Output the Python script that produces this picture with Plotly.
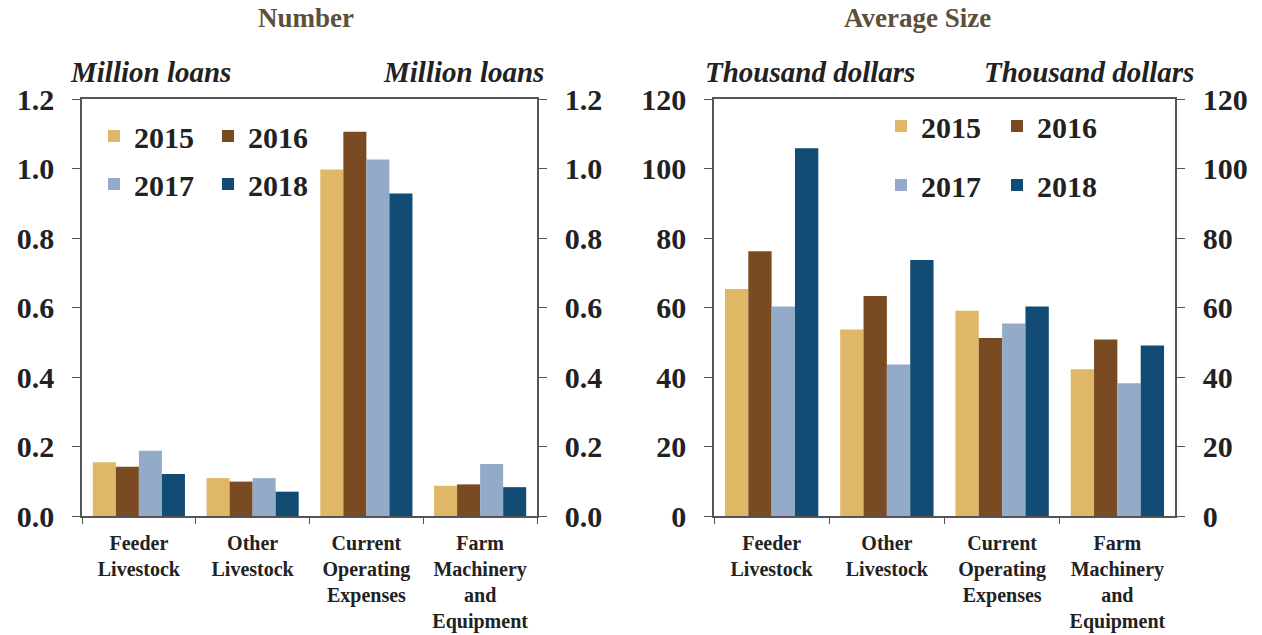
import plotly.graph_objects as go

categories = ["Feeder<br>Livestock", "Other<br>Livestock", "Current<br>Operating<br>Expenses",
              "Farm<br>Machinery<br>and<br>Equipment"]
years = ["2015", "2016", "2017", "2018"]

# Number of loans (million loans)
number_2015 = [0.155, 0.109, 0.997, 0.087]
number_2016 = [0.142, 0.099, 1.106, 0.091]
number_2017 = [0.188, 0.109, 1.026, 0.150]
number_2018 = [0.121, 0.070, 0.928, 0.083]

# Average size (thousand dollars)
size_2015 = [65.3, 53.7, 59.1, 42.2]
size_2016 = [76.2, 63.3, 51.2, 50.8]
size_2017 = [60.3, 43.6, 55.4, 38.2]
size_2018 = [105.8, 73.7, 60.3, 49.1]

colors = ["#DFB767", "#7A4B22", "#93ABC8", "#124B73"]

W, H = 1262, 635
FONT = "Liberation Serif"
TXT = "#222222"


def px(x):
    return x / W


def py(y):
    return 1 - y / H


fig = go.Figure()

number_series = [number_2015, number_2016, number_2017, number_2018]
size_series = [size_2015, size_2016, size_2017, size_2018]

# legend symbol centers (pixels)
left_leg = [(114, 136), (228, 136), (114, 184), (228, 184)]
right_leg = [(901, 126), (1017, 126), (901, 185), (1017, 185)]

for i, (yr, vals) in enumerate(zip(years, number_series)):
    lg = "legend" if i == 0 else f"legend{i + 1}"
    fig.add_trace(go.Bar(x=categories, y=vals, name=yr, marker_color=colors[i],
                         marker_line_width=0, xaxis="x", yaxis="y", legend=lg))
for i, (yr, vals) in enumerate(zip(years, size_series)):
    lg = f"legend{i + 5}"
    fig.add_trace(go.Bar(x=categories, y=vals, name=yr, marker_color=colors[i],
                         marker_line_width=0, xaxis="x2", yaxis="y2", legend=lg))

# dummy traces to activate right-hand axes
fig.add_trace(go.Scatter(x=[categories[0]], y=[None], xaxis="x", yaxis="y3",
                         showlegend=False, hoverinfo="skip", mode="markers"))
fig.add_trace(go.Scatter(x=[categories[0]], y=[None], xaxis="x2", yaxis="y4",
                         showlegend=False, hoverinfo="skip", mode="markers"))

ydom = [py(516), py(99)]
x1dom = [px(82), px(537)]
x2dom = [px(714), px(1175)]

axis_line = dict(showline=True, linecolor="#555555", linewidth=1.5, automargin=False)
xcommon = dict(type="category", tickson="boundaries", ticks="outside", ticklen=6,
               tickcolor="#555555", mirror=True, showgrid=False, zeroline=False,
               ticklabelstandoff=8,
               tickfont=dict(family=FONT, size=20, color=TXT, weight="bold"), **axis_line)
ycommon = dict(ticks="outside", ticklen=8, tickcolor="#555555", showgrid=False,
               zeroline=False, ticklabelstandoff=12,
               tickfont=dict(family=FONT, size=30, color=TXT, weight="bold"), **axis_line)

layout = dict(
    template="none",
    width=W, height=H, autosize=False,
    margin=dict(l=0, r=0, t=0, b=0, autoexpand=False),
    paper_bgcolor="white", plot_bgcolor="white",
    barmode="group", bargap=0.19, bargroupgap=0,
    font=dict(family=FONT, color=TXT),
    xaxis=dict(domain=x1dom, anchor="y", **xcommon),
    xaxis2=dict(domain=x2dom, anchor="y2", **xcommon),
    yaxis=dict(domain=ydom, anchor="x", range=[0, 1.2], dtick=0.2, tickformat=".1f", **ycommon),
    yaxis3=dict(overlaying="y", side="right", anchor="x", range=[0, 1.2], dtick=0.2,
                tickformat=".1f", **ycommon),
    yaxis2=dict(domain=ydom, anchor="x2", range=[0, 120], dtick=20, **ycommon),
    yaxis4=dict(overlaying="y2", side="right", anchor="x2", range=[0, 120], dtick=20, **ycommon),
    showlegend=True,
)

for i, (cx, cy) in enumerate(left_leg + right_leg):
    key = "legend" if i == 0 else f"legend{i + 1}"
    layout[key] = dict(x=px(cx - 20), y=py(cy), xanchor="left", yanchor="middle",
                       bgcolor="rgba(0,0,0,0)", borderwidth=0,
                       font=dict(family=FONT, size=30, color=TXT, weight="bold"))

fig.update_layout(**layout)

title_color = "#5E4E3C"
for text, x in [("Number", 306), ("Average Size", 917)]:
    fig.add_annotation(text=f"<b>{text}</b>", x=px(x), y=py(18), xref="paper", yref="paper",
                       showarrow=False, xanchor="center", yanchor="middle",
                       font=dict(family=FONT, size=27, color=title_color))

units = [
    ("Million loans", 68, "left"),
    ("Million loans", 546, "right"),
    ("Thousand dollars", 703, "left"),
    ("Thousand dollars", 1196, "right"),
]
for text, x, anc in units:
    fig.add_annotation(text=f"<b><i>{text}</i></b>", x=px(x), y=py(72), xref="paper", yref="paper",
                       showarrow=False, xanchor=anc, yanchor="middle",
                       font=dict(family=FONT, size=29, color=TXT))

fig.write_html("out.html")
